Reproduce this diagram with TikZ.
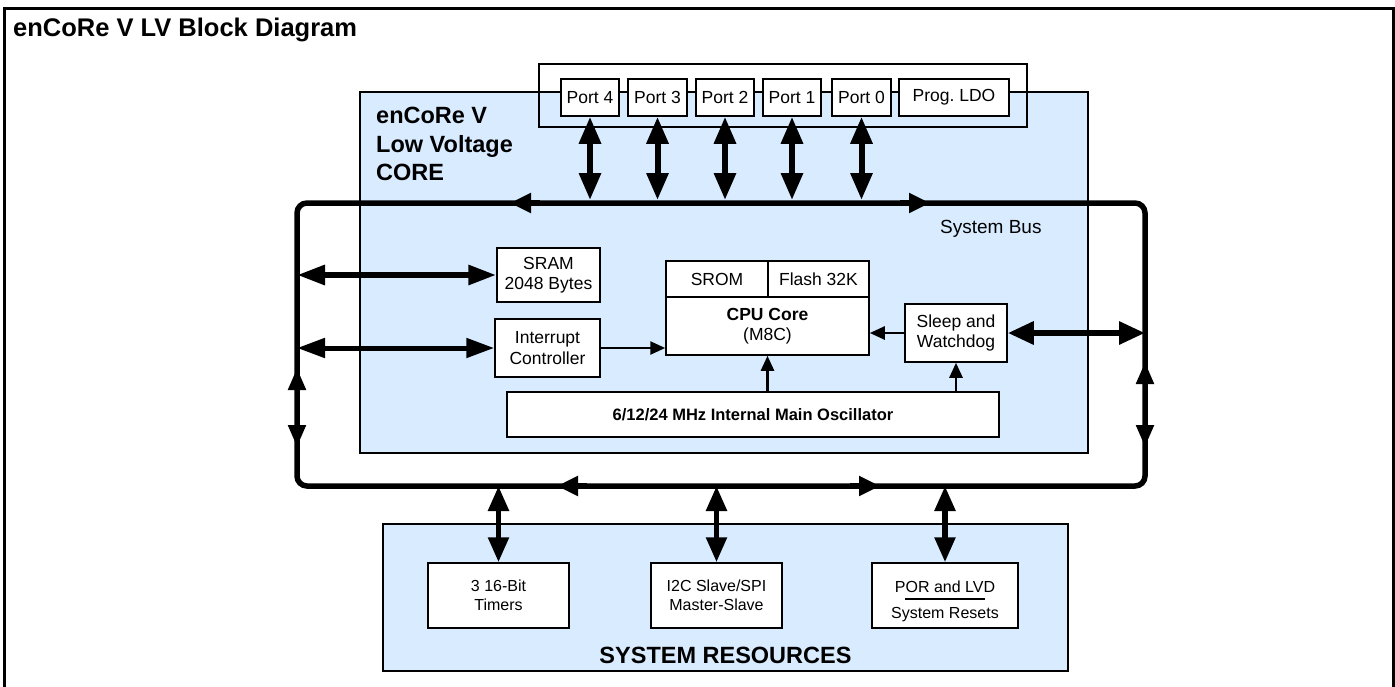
\documentclass[tikz,border=0pt]{standalone}
\usepackage{fontspec}
\setmainfont{Liberation Sans}
\usetikzlibrary{arrows.meta}
\definecolor{coreblue}{RGB}{217,236,255}
\begin{document}
\begin{tikzpicture}[x=1pt,y=-1pt,
  box/.style={draw=black, line width=1.5pt, fill=white, inner sep=0pt, align=center,
    font=\fontsize{17.5}{20.5}\selectfont},
  panel/.style={draw=black, line width=2pt, fill=coreblue},
  bus/.style={line width=5.5pt},
  dblbig/.style={line width=6pt, {Triangle[length=27pt,width=21pt]}-{Triangle[length=27pt,width=21pt]}},
  dblmid/.style={line width=5.5pt, {Triangle[length=25pt,width=20pt]}-{Triangle[length=25pt,width=20pt]}},
  dblside/.style={line width=5pt, {Triangle[length=22pt,width=17pt]}-{Triangle[length=22pt,width=17pt]}},
  busdir/.style={line width=5.5pt, -{Triangle[length=21pt,width=19pt]}},
  thinarrow/.style={line width=2.5pt, -{Triangle[length=15pt,width=13pt]}},
]
\useasboundingbox (0,0) rectangle (1395,686);
% outer frame
\draw[line width=3pt] (4,690) -- (4,8) -- (1393,8) -- (1393,690);
\node[anchor=base west, inner sep=0pt, font=\bfseries\fontsize{25.5}{30}\selectfont] (title) at (13,36) {enCoRe V LV Block Diagram};

% port strip background, core panel, strip border
\fill[white] (539,64) rectangle (1027,127);
\node[panel, inner sep=0pt, minimum width=728pt, minimum height=361pt] (core) at (724,272.5) {};
\draw[line width=2.5pt] (539,64) rectangle (1027,127);

% ports
\node[box, minimum width=58pt, minimum height=37pt] (p4) at (590,97.5) {Port 4};
\node[box, minimum width=59pt, minimum height=37pt] (p3) at (657.5,97.5) {Port 3};
\node[box, minimum width=58pt, minimum height=37pt] (p2) at (725,97.5) {Port 2};
\node[box, minimum width=58pt, minimum height=37pt] (p1) at (792,97.5) {Port 1};
\node[box, minimum width=59pt, minimum height=37pt] (p0) at (861.5,97.5) {Port 0};
\node[box, minimum width=110pt, minimum height=37pt] (ldo) at (954,97.5) {Prog.\ LDO};

\node[anchor=north west, inner sep=0pt, align=left, font=\bfseries\fontsize{23.5}{28.5}\selectfont] (coretitle) at (376,107) {enCoRe V\\Low Voltage\\CORE};

% system bus
\coordinate (busTL) at (297,203);
\coordinate (busTR) at (1145,203);
\coordinate (busBR) at (1145,486);
\coordinate (busBL) at (297,486);
\draw[bus, rounded corners=10pt] (720,203) -- (busTR) -- (busBR) -- (busBL) -- (busTL) -- cycle;
\node[anchor=base west, inner sep=0pt, font=\fontsize{19}{22}\selectfont] (sysbus) at (940,233) {System Bus};

% bus direction marks
\coordinate (tA1) at (540,203); \coordinate (tA2) at (510,203);
\coordinate (tB1) at (900,203); \coordinate (tB2) at (930,203);
\coordinate (bA1) at (587,486); \coordinate (bA2) at (557,486);
\coordinate (bB1) at (850,486); \coordinate (bB2) at (880,486);
\draw[busdir] (tA1) -- (tA2);
\draw[busdir] (tB1) -- (tB2);
\draw[busdir] (bA1) -- (bA2);
\draw[busdir] (bB1) -- (bB2);
% side arrows on vertical bus lines
\coordinate (lU) at (297,368); \coordinate (lD) at (297,447);
\coordinate (rU) at (1145,362); \coordinate (rD) at (1145,447);
\draw[dblside] (lU) -- (lD);
\draw[dblside] (rU) -- (rD);

% port connections
\foreach \p in {p4,p3,p2,p1,p0}{
  \draw[dblbig] (\p.south) -- (\p.south |- 0,200);
}

% inner blocks
\node[box, minimum width=103pt, minimum height=54pt] (sram) at (548.5,275) {SRAM\\2048 Bytes};
\node[box, minimum width=105pt, minimum height=58pt] (intc) at (547.5,348) {Interrupt\\Controller};
\node[box, minimum width=102pt, minimum height=36pt] (srom) at (717,279) {SROM};
\node[box, minimum width=101pt, minimum height=36pt] (flash) at (818.5,279) {Flash 32K};
\node[box, minimum width=203pt, minimum height=58pt] (cpu) at (767.5,326) {\textbf{CPU Core}\\(M8C)};
\node[box, minimum width=102pt, minimum height=58pt] (sleep) at (956,333) {Sleep and\\Watchdog};
\node[box, minimum width=492pt, minimum height=45pt, font=\bfseries\fontsize{16.5}{20}\selectfont] (osc) at (753,414.5) {6/12/24 MHz Internal Main Oscillator};

\draw[line width=6pt, {Triangle[length=28pt,width=19pt]}-{Triangle[length=28pt,width=19pt]}] (busTL |- sram.west) -- (sram.west);
\draw[line width=5pt, {Triangle[length=28pt,width=19pt]}-{Triangle[length=28pt,width=19pt]}] (busTL |- intc.west) -- (intc.west);
\draw[line width=6pt, {Triangle[length=26pt,width=22pt]}-{Triangle[length=26pt,width=22pt]}] (sleep.east) -- (sleep.east -| busTR);
\draw[thinarrow] (intc.east) -- (intc.east -| cpu.west);
\draw[thinarrow] (sleep.west) -- (sleep.west -| cpu.east);
\draw[thinarrow] (osc.north -| cpu.south) -- (cpu.south);
\draw[thinarrow] (osc.north -| sleep.south) -- (sleep.south);

% system resources
\node[panel, inner sep=0pt, minimum width=685pt, minimum height=147pt] (sr) at (725.5,597.5) {};
\node[anchor=base, inner sep=0pt, font=\bfseries\fontsize{23.5}{28}\selectfont] (srtitle) at (725.5,663) {SYSTEM RESOURCES};
\node[box, minimum width=141pt, minimum height=65pt, font=\fontsize{16}{19}\selectfont] (tim) at (498.5,595.5) {3 16-Bit\\Timers};
\node[box, minimum width=131pt, minimum height=65pt, font=\fontsize{16}{19}\selectfont] (i2c) at (716.5,595.5) {I2C Slave/SPI\\Master-Slave};
\node[box, minimum width=146pt, minimum height=65pt, font=\fontsize{16}{19}\selectfont] (por) at (945,595.5) {\rule{0pt}{24pt}POR and LVD\\[7pt]System Resets};
\draw[line width=1.2pt] ([shift={(-40,3.5)}]por.center) -- ([shift={(40,3.5)}]por.center);

\draw[dblmid] (busBL -| tim.north) -- (tim.north);
\draw[dblmid] (busBL -| i2c.north) -- (i2c.north);
\draw[dblmid] (busBL -| por.north) -- (por.north);
\end{tikzpicture}
\end{document}
